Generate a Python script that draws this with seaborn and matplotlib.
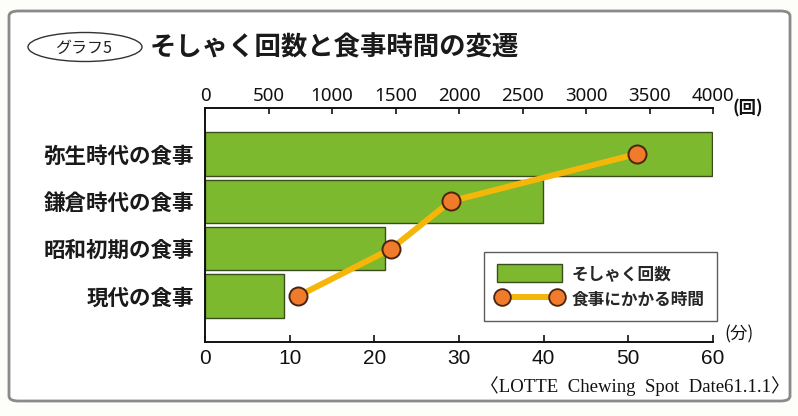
import numpy as np
import pandas as pd
import matplotlib
matplotlib.use("Agg")
import matplotlib.pyplot as plt
import seaborn as sns
from matplotlib.patches import FancyBboxPatch, Ellipse, Patch
from matplotlib.lines import Line2D

# ---- data ----
categories = ["弥生時代の食事", "鎌倉時代の食事", "昭和初期の食事", "現代の食事"]
chew_counts = [3990, 2660, 1420, 620]        # そしゃく回数 (回)
meal_minutes = [51, 29, 22, 11]              # 食事にかかる時間 (分)
count_ticks = [0, 500, 1000, 1500, 2000, 2500, 3000, 3500, 4000]
minute_ticks = [0, 10, 20, 30, 40, 50, 60]
title = "そしゃく回数と食事時間の変遷"
badge = "グラフ5"
legend_labels = ["そしゃく回数", "食事にかかる時間"]
source = "〈LOTTE  Chewing  Spot  Date61.1.1〉"

sns.set_theme(style="white")
JP = ["Noto Sans CJK JP", "DejaVu Sans"]
plt.rcParams["font.family"] = JP

GREEN = "#7cb92e"
GREEN_EDGE = "#3b4d1c"
LINE = "#f5b60a"
MARK = "#ef7b2b"
MARK_EDGE = "#4a2410"
BG = "#fdfdfa"

W, H = 798, 416
fig = plt.figure(figsize=(W / 100, H / 100), dpi=100, facecolor=BG)

def fx(px):
    return px / W

def fy(py):
    return 1 - py / H

# outer rounded frame (behind everything)
frame = FancyBboxPatch((fx(9), fy(401)), fx(781), 390 / H,
                       boxstyle="round,pad=0,rounding_size=0.012",
                       transform=fig.transFigure, facecolor="white",
                       edgecolor="#8a8a8a", linewidth=2.0, zorder=-10)
fig.patches.append(frame)

# badge ellipse + title
ell = Ellipse((fx(85), fy(47)), fx(114), 29 / H, transform=fig.transFigure,
              facecolor="none", edgecolor="#333333", linewidth=1.0, zorder=-5)
fig.patches.append(ell)
fig.text(fx(84), fy(48), badge, ha="center", va="center", fontsize=11.5,
         color="#222222")
fig.text(fx(150), fy(48), title, ha="left", va="center", fontsize=19,
         fontweight="bold", color="#1a1a1a")

# main axes + twin for minutes
AX_L, AX_R, AX_T, AX_B = 205, 713, 108, 342
ax = fig.add_axes([fx(AX_L), fy(AX_B), fx(AX_R) - fx(AX_L), fy(AX_T) - fy(AX_B)])
ax.set_facecolor("none")
ax2 = ax.twiny()
ax2.set_facecolor("none")

df = pd.DataFrame({"category": categories, "count": chew_counts,
                   "minutes": meal_minutes})
sns.barplot(data=df, x="count", y="category", orient="h", ax=ax,
            color=GREEN, saturation=1, width=0.91,
            edgecolor=GREEN_EDGE, linewidth=1.0)

pos = np.arange(len(categories))
sns.lineplot(x=df["minutes"], y=pos, orient="y", sort=False, ax=ax2,
             color=LINE, linewidth=4.3, marker="o", markersize=13,
             markerfacecolor=MARK, markeredgecolor=MARK_EDGE,
             markeredgewidth=1.4, zorder=5)

YLIM = (3.97, -0.97)

# counts axis (top)
ax.set_xlim(0, 4000)
ax.set_ylim(*YLIM)
ax.set_xlabel("")
ax.set_ylabel("")
ax.set_axisbelow(False)
ax.xaxis.tick_top()
ax.xaxis.set_label_position("top")
ax.set_xticks(count_ticks)
ax.set_xticklabels([str(t) for t in count_ticks], fontsize=13.5,
                   family=["Noto Sans", "DejaVu Sans"], color="#111111")
ax.tick_params(axis="x", direction="in", length=4, width=1.2, pad=2.5,
               top=True, bottom=False, labeltop=True, labelbottom=False,
               colors="#111111")
ax.tick_params(axis="y", length=0, pad=8)
for lab in ax.get_yticklabels():
    lab.set_fontsize(15.5)
    lab.set_fontweight("bold")
    lab.set_color("#1a1a1a")
for s in ["right", "bottom"]:
    ax.spines[s].set_visible(False)
for s in ["top", "left"]:
    ax.spines[s].set_visible(True)
    ax.spines[s].set_color("#111111")
    ax.spines[s].set_linewidth(1.4)

# minutes axis (bottom)
ax2.set_xlim(0, 60)
ax2.set_ylim(*YLIM)
ax2.set_ylabel("")
ax2.set_xlabel("")
ax2.xaxis.tick_bottom()
ax2.xaxis.set_label_position("bottom")
ax2.set_xticks(minute_ticks)
ax2.set_xticklabels([str(t) for t in minute_ticks], fontsize=15,
                    family=["Liberation Sans", "DejaVu Sans"], color="#111111")
ax2.tick_params(axis="x", direction="in", length=5, width=1.2, pad=5,
                bottom=True, top=False, labelbottom=True, labeltop=False,
                colors="#111111")
for s in ["right", "top", "left"]:
    ax2.spines[s].set_visible(False)
ax2.spines["bottom"].set_visible(True)
ax2.spines["bottom"].set_color("#111111")
ax2.spines["bottom"].set_linewidth(1.4)

# unit labels
fig.text(fx(733), fy(108), "(回)", ha="left", va="center", fontsize=12.5,
         fontweight="bold", color="#111111")
fig.text(fx(724), fy(334), "(分)", ha="left", va="center", fontsize=12.5,
         color="#111111")

# legend
handles = [Patch(facecolor=GREEN, edgecolor=GREEN_EDGE, linewidth=1.0),
           Line2D([0], [0], color=LINE, linewidth=4.3, marker="o",
                  markersize=12, markerfacecolor=MARK,
                  markeredgecolor=MARK_EDGE, markeredgewidth=1.3)]
leg = fig.legend(handles, legend_labels, loc="upper left",
                 bbox_to_anchor=(fx(484), fy(252)), borderaxespad=0,
                 frameon=True, fancybox=False, edgecolor="#333333",
                 facecolor="white", numpoints=2, handlelength=3.9,
                 handleheight=1.2, handletextpad=0.6, borderpad=0.75,
                 labelspacing=0.45,
                 prop={"family": JP, "size": 12, "weight": "bold"})
leg.get_frame().set_linewidth(1.0)
leg.set_zorder(10)

# source
fig.text(fx(790), fy(386), source, ha="right", va="center", fontsize=13.5,
         family=["Liberation Serif", "Noto Sans CJK JP", "DejaVu Serif"],
         color="#111111")

fig.savefig("out.png", dpi=100, facecolor=BG)
